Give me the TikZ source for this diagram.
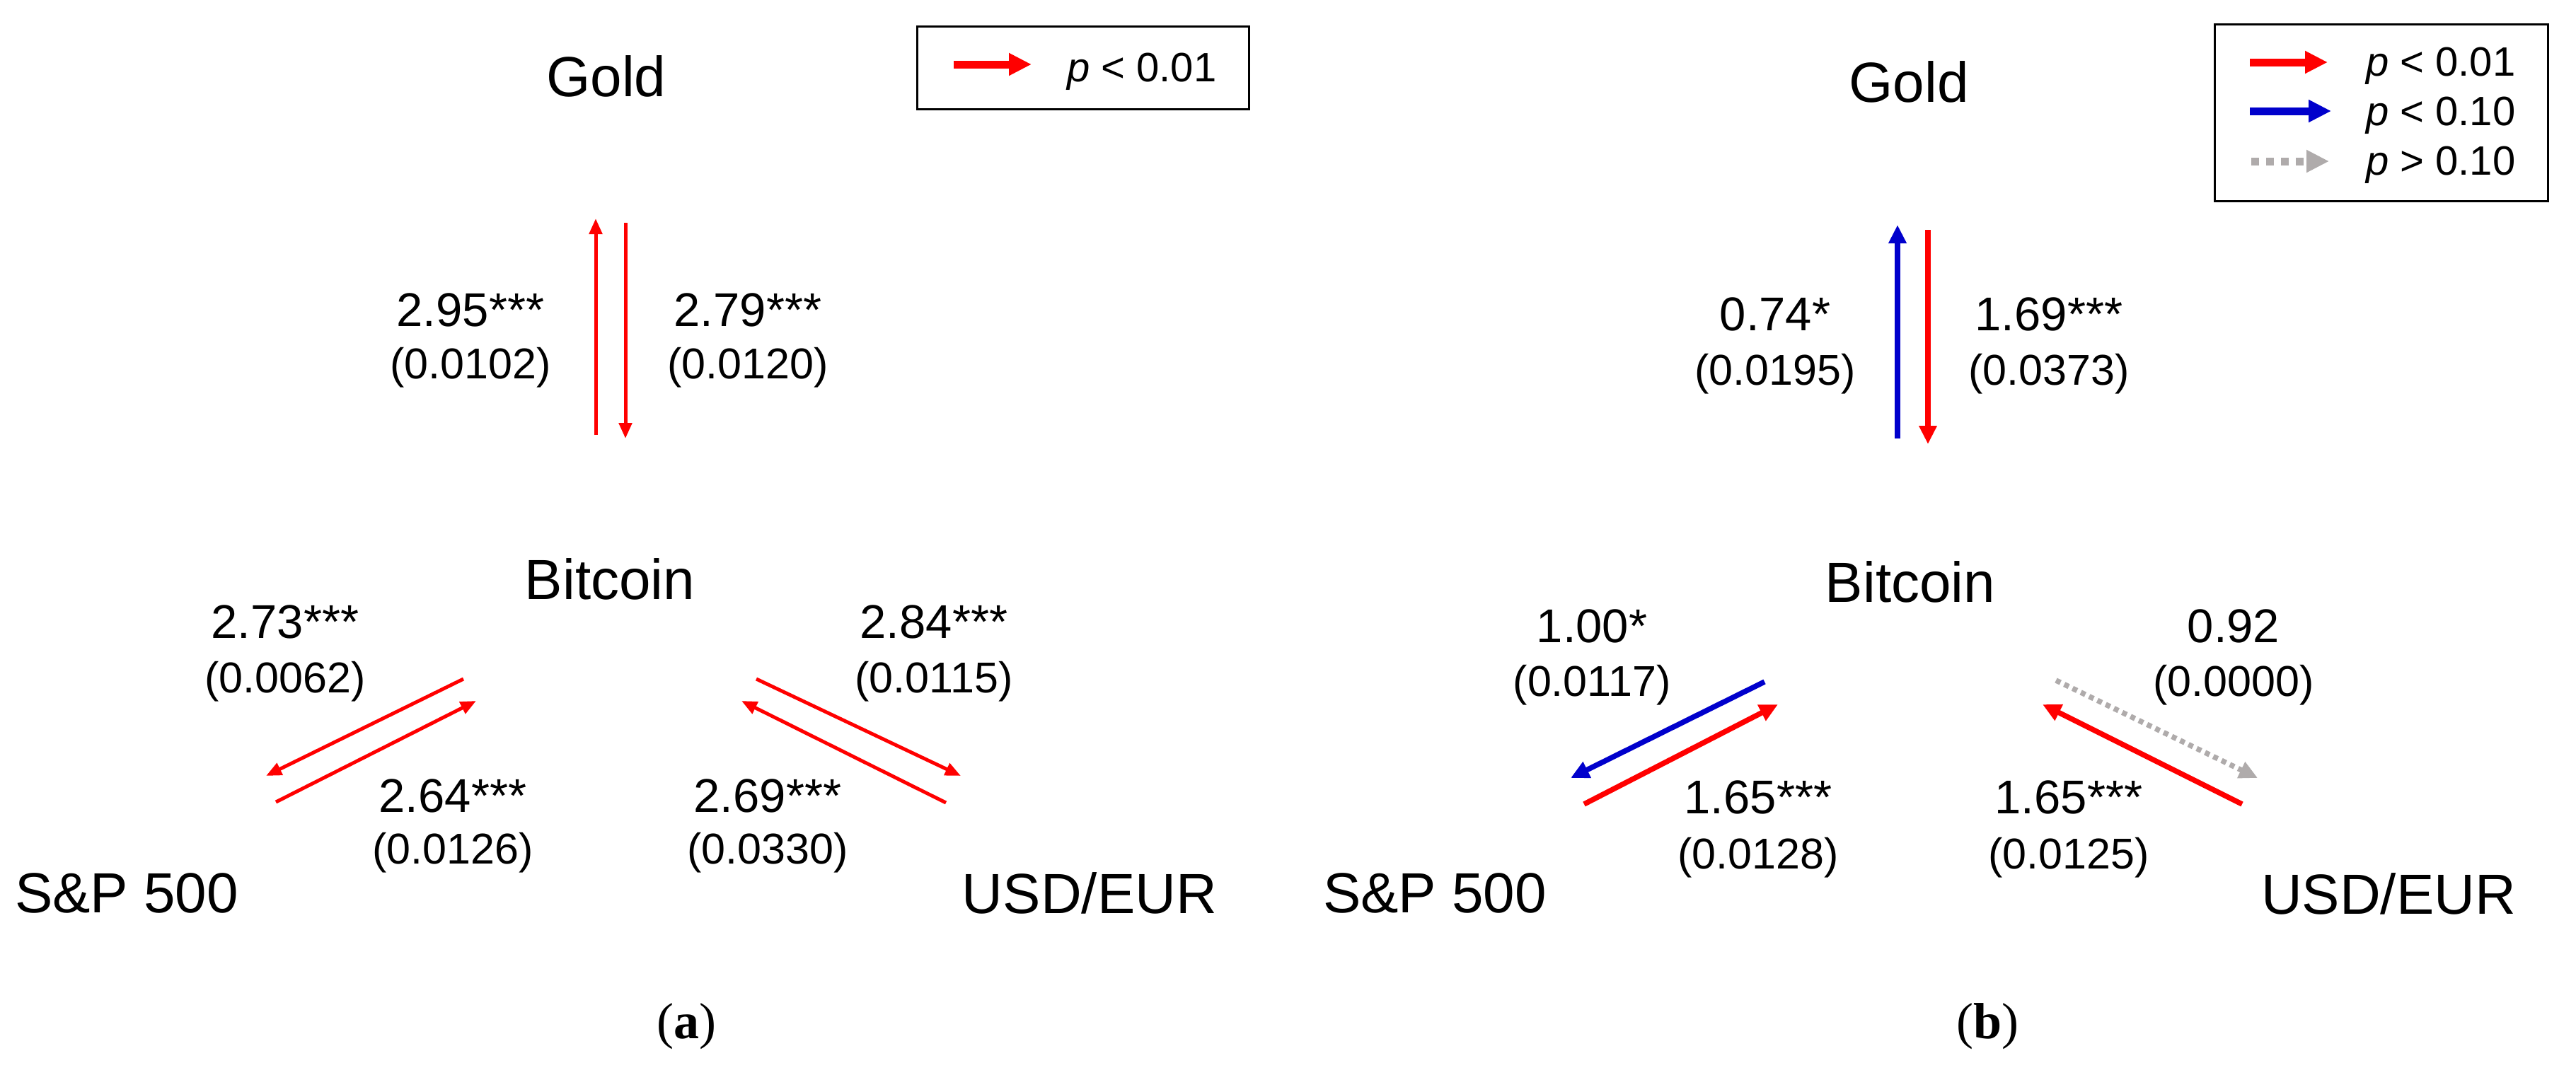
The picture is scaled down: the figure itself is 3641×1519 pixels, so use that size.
\documentclass[tikz,border=0pt]{standalone}
\usepackage{fontspec}
\setmainfont{Liberation Sans}
\newfontfamily\capfont{Liberation Serif}
\usetikzlibrary{arrows.meta}
\definecolor{sigred}{RGB}{255,0,0}
\definecolor{sigblue}{RGB}{0,0,204}
\definecolor{nsgray}{RGB}{175,171,171}
\tikzset{
 market/.style={font=\fontsize{80}{96}\selectfont, inner sep=0pt, anchor=base},
 coef/.style={font=\fontsize{67}{80}\selectfont, inner sep=0pt, anchor=base},
 pval/.style={font=\fontsize{61}{73}\selectfont, inner sep=0pt, anchor=base},
 legtext/.style={font=\fontsize{58}{70}\selectfont, inner sep=0pt, anchor=base west},
 captxt/.style={font=\capfont\fontsize{72}{86}\selectfont, inner sep=0pt, anchor=base},
 thinarr/.style={line width=5pt, -{Triangle[length=22pt,width=18pt]}},
 thickarr/.style={line width=7.5pt, -{Triangle[length=26pt,width=24pt]}},
 legarr/.style={line width=11pt, -{Triangle[length=32pt,width=30pt]}},
 legbox/.style={draw=black, line width=3pt},
 nsline/.style={nsgray, dash pattern=on 7pt off 6pt},
 nslegline/.style={nsgray, dash pattern=on 11pt off 10pt},
}
\newcommand\coeflabel[6]{%
 \node[coef] (#1) at (#2,#3) {#5};
 \node[pval] (#1p) at (#2,#4) {#6};}
\begin{document}
\begin{tikzpicture}[x=1pt,y=-1pt]
\path[fill=white] (0,0) rectangle (3641,1519);
\useasboundingbox (0,0) rectangle (3641,1519);

% ---------------- panel (a) ----------------
\node[market] (goldA) at (857,136) {Gold};
\node[market] (btcA) at (862,847) {Bitcoin};
\node[market] (spA) at (179,1290) {S\&P 500};
\node[market] (usdA) at (1540,1291) {USD/EUR};

\node[legbox, minimum width=469pt, minimum height=117pt, anchor=north west] (legA) at (1295,36) {};
\coordinate (legAs) at (1348,91);
\coordinate (legAe) at (1458,91);
\draw[legarr, sigred] (legAs) -- (legAe);
\node[legtext] (legAt) at (1508,115) {\textit{p} < 0.01};

% vertical pair
\coordinate (aGu1) at (842,615); \coordinate (aGu2) at (842,309);
\coordinate (aGd1) at (884,315); \coordinate (aGd2) at (884,620);
\draw[thinarr, sigred] (aGu1) -- (aGu2);
\draw[thinarr, sigred] (aGd1) -- (aGd2);
\coeflabel{labA1}{665}{461}{535}{2.95***}{(0.0102)}
\coeflabel{labA2}{1057}{461}{535}{2.79***}{(0.0120)}

% S&P pair
\coordinate (aBS1) at (655,960); \coordinate (aBS2) at (376,1097);
\coordinate (aSB1) at (390,1134); \coordinate (aSB2) at (673,991);
\draw[thinarr, sigred] (aBS1) -- (aBS2);
\draw[thinarr, sigred] (aSB1) -- (aSB2);
\coeflabel{labA3}{403}{902}{979}{2.73***}{(0.0062)}
\coeflabel{labA4}{640}{1148}{1221}{2.64***}{(0.0126)}

% USD pair
\coordinate (aBU1) at (1069,960); \coordinate (aBU2) at (1358,1097);
\coordinate (aUB1) at (1337,1135); \coordinate (aUB2) at (1048,991);
\draw[thinarr, sigred] (aBU1) -- (aBU2);
\draw[thinarr, sigred] (aUB1) -- (aUB2);
\coeflabel{labA5}{1320}{902}{979}{2.84***}{(0.0115)}
\coeflabel{labA6}{1085}{1148}{1221}{2.69***}{(0.0330)}

\node[captxt] (capA) at (970,1468) {(\textbf{a})};

% ---------------- panel (b) ----------------
\node[market] (goldB) at (2698,144) {Gold};
\node[market] (btcB) at (2700,851) {Bitcoin};
\node[market] (spB) at (2028,1290) {S\&P 500};
\node[market] (usdB) at (3376,1292) {USD/EUR};

\node[legbox, minimum width=471pt, minimum height=250pt, anchor=north west] (legB) at (3129,33) {};
\coordinate (legB1s) at (3180,88); \coordinate (legB1e) at (3290,88);
\coordinate (legB2s) at (3180,157); \coordinate (legB2e) at (3295,157);
\coordinate (legB3s) at (3182,228); \coordinate (legB3e) at (3292,228);
\draw[legarr, sigred] (legB1s) -- (legB1e);
\draw[legarr, sigblue] (legB2s) -- (legB2e);
\draw[legarr, nslegline] (legB3s) -- (legB3e);
\node[legtext] (legBt1) at (3344,107) {\textit{p} < 0.01};
\node[legtext] (legBt2) at (3344,177) {\textit{p} < 0.10};
\node[legtext] (legBt3) at (3344,247) {\textit{p} > 0.10};

% vertical pair
\coordinate (bGu1) at (2682,620); \coordinate (bGu2) at (2682,318);
\coordinate (bGd1) at (2725,325); \coordinate (bGd2) at (2725,628);
\draw[thickarr, sigblue] (bGu1) -- (bGu2);
\draw[thickarr, sigred] (bGd1) -- (bGd2);
\coeflabel{labB1}{2509}{467}{544}{0.74*}{(0.0195)}
\coeflabel{labB2}{2896}{467}{544}{1.69***}{(0.0373)}

% S&P pair
\coordinate (bBS1) at (2494,964); \coordinate (bBS2) at (2220,1100);
\coordinate (bSB1) at (2239,1137); \coordinate (bSB2) at (2513,996);
\draw[thickarr, sigblue] (bBS1) -- (bBS2);
\draw[thickarr, sigred] (bSB1) -- (bSB2);
\coeflabel{labB3}{2250}{908}{984}{1.00*}{(0.0117)}
\coeflabel{labB4}{2485}{1150}{1228}{1.65***}{(0.0128)}

% USD pair
\coordinate (bBU1) at (2906,962); \coordinate (bBU2) at (3191,1100);
\coordinate (bUB1) at (3169,1137); \coordinate (bUB2) at (2887,996);
\draw[thickarr, nsline] (bBU1) -- (bBU2);
\draw[thickarr, sigred] (bUB1) -- (bUB2);
\coeflabel{labB5}{3157}{908}{984}{0.92}{(0.0000)}
\coeflabel{labB6}{2924}{1150}{1228}{1.65***}{(0.0125)}

\node[captxt] (capB) at (2809,1468) {(\textbf{b})};
\end{tikzpicture}
\end{document}
